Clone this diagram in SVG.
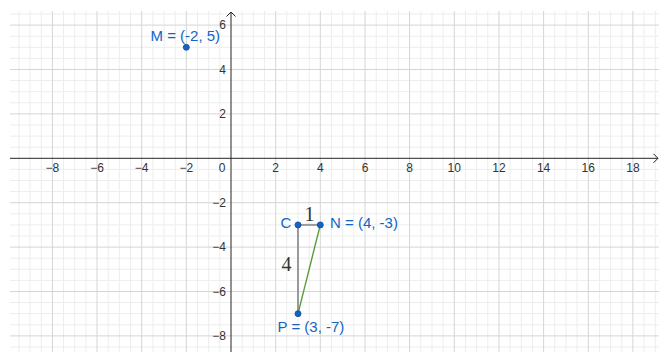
<svg xmlns="http://www.w3.org/2000/svg" width="659" height="352" viewBox="0 0 659 352">
<style>
.minor{stroke:#ededed;stroke-width:1;fill:none}
.major{stroke:#d5d5d5;stroke-width:1;fill:none}
.axis{stroke:#252525;stroke-width:1;fill:none}
.tick{font-family:"Liberation Sans",Arial,sans-serif;font-size:12px;fill:#333}
.tx{text-anchor:middle}
.ty{text-anchor:end}
.pt{fill:#1565c0;stroke:#0d47a1;stroke-width:0.8}
.plabel{font-family:"Liberation Sans",Arial,sans-serif;font-size:15px;fill:#1565c0}
.seglabel{font-family:"Liberation Serif","Times New Roman",serif;font-size:20px;fill:#333}
.grayseg{stroke:#9a9a9a;stroke-width:2;fill:none}
.greenseg{stroke:#5a9a3c;stroke-width:1.4;fill:none}
</style>
<rect width="659" height="352" fill="#ffffff"/>
<g id="grid">
<path class="minor" d="M18.9 11V352M30 11V352M41.2 11V352M63.5 11V352M74.7 11V352M85.9 11V352M108.2 11V352M119.4 11V352M130.5 11V352M152.9 11V352M164 11V352M175.2 11V352M197.5 11V352M208.7 11V352M219.8 11V352M242.2 11V352M253.3 11V352M264.5 11V352M286.8 11V352M298 11V352M309.2 11V352M331.5 11V352M342.7 11V352M353.8 11V352M376.2 11V352M387.3 11V352M398.5 11V352M420.8 11V352M432 11V352M443.1 11V352M465.5 11V352M476.6 11V352M487.8 11V352M510.1 11V352M521.3 11V352M532.5 11V352M554.8 11V352M566 11V352M577.1 11V352M599.5 11V352M610.6 11V352M621.8 11V352M644.1 11V352M655.3 11V352M10 14H659M10 36.2H659M10 47.3H659M10 58.4H659M10 80.6H659M10 91.7H659M10 102.8H659M10 125H659M10 136.1H659M10 147.2H659M10 169.4H659M10 180.5H659M10 191.6H659M10 213.8H659M10 224.9H659M10 236H659M10 258.2H659M10 269.3H659M10 280.4H659M10 302.6H659M10 313.7H659M10 324.8H659M10 347H659"/>
<path class="major" d="M52.4 11V352M97 11V352M141.7 11V352M186.3 11V352M275.7 11V352M320.3 11V352M365 11V352M409.6 11V352M454.3 11V352M499 11V352M543.6 11V352M588.3 11V352M632.9 11V352M10 25.1H659M10 69.5H659M10 113.9H659M10 202.7H659M10 247.1H659M10 291.5H659M10 335.9H659"/>
</g>
<g id="axes">
<path class="axis" d="M10 158.3H658M231 12V352"/>
<path class="axis" d="M653.5 153.8L658 158.3L653.5 162.8M226.5 16.5L231 12L235.5 16.5"/>
<g class="tick tx">
<text x="52.4" y="172">−8</text>
<text x="97" y="172">−6</text>
<text x="141.7" y="172">−4</text>
<text x="186.3" y="172">−2</text>
<text x="222" y="172">0</text>
<text x="275.7" y="172">2</text>
<text x="320.3" y="172">4</text>
<text x="365" y="172">6</text>
<text x="409.6" y="172">8</text>
<text x="454.3" y="172">10</text>
<text x="499" y="172">12</text>
<text x="543.6" y="172">14</text>
<text x="588.3" y="172">16</text>
<text x="632.9" y="172">18</text>
</g>
<g class="tick ty">
<text x="226" y="29.3">6</text>
<text x="226" y="73.7">4</text>
<text x="226" y="118.1">2</text>
<text x="226" y="206.9">−2</text>
<text x="226" y="251.3">−4</text>
<text x="226" y="295.7">−6</text>
<text x="226" y="340.1">−8</text>
</g>
</g>
<g id="connectors">
<line id="seg-CN" class="grayseg" x1="298" y1="224.9" x2="320.3" y2="224.9"/>
<line id="seg-CP" class="grayseg" x1="298" y1="224.9" x2="298" y2="313.7"/>
<line id="seg-NP" class="greenseg" x1="320.3" y1="224.9" x2="298" y2="313.7"/>
<text class="seglabel" x="304.5" y="220.5">1</text>
<text class="seglabel" x="281.5" y="270.5">4</text>
</g>
<g id="M">
<circle class="pt" cx="186.3" cy="47.3" r="3"/>
<text class="plabel" x="150.5" y="40.7">M = (-2, 5)</text>
</g>
<g id="C">
<circle class="pt" cx="298" cy="224.9" r="3"/>
<text class="plabel" x="280.5" y="228">C</text>
</g>
<g id="N">
<circle class="pt" cx="320.3" cy="224.9" r="3"/>
<text class="plabel" x="330" y="228">N = (4, -3)</text>
</g>
<g id="P">
<circle class="pt" cx="298" cy="313.7" r="3"/>
<text class="plabel" x="277.5" y="331.7">P = (3, -7)</text>
</g>
</svg>
